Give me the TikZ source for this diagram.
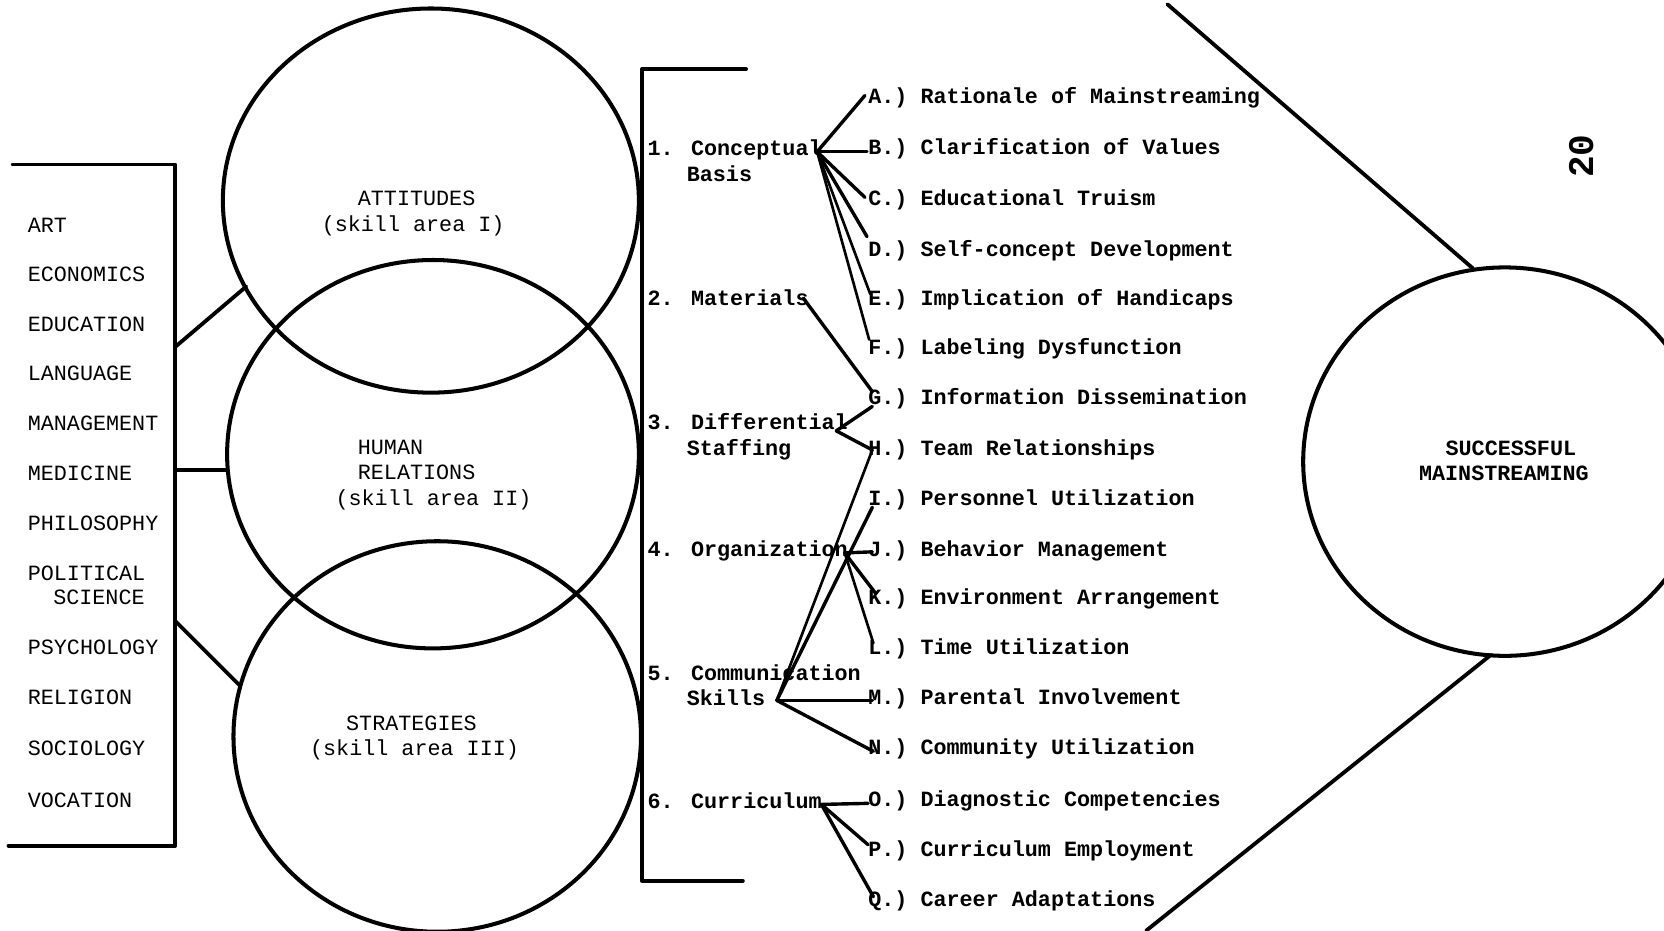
\documentclass[tikz,border=0pt]{standalone}
\usepackage{fontspec}
\newfontfamily\tw{Liberation Mono}
\begin{document}
\begin{tikzpicture}[x=1pt,y=-1pt,
  frame/.style={line width=3.6pt, line cap=round, line join=round},
  ring/.style={line width=3.8pt},
  link/.style={line width=3.2pt, line cap=round},
  thinlink/.style={line width=2.5pt, line cap=round},
  word/.style={anchor=base west, inner sep=0pt, font=\tw\fontsize{20.5}{24}\selectfont},
  item/.style={anchor=base west, inner sep=0pt, font=\tw\bfseries\fontsize{20.5}{24}\selectfont}]
\useasboundingbox (0,0) rectangle (1568,877);
\fill[white] (0,0) rectangle (1568,877);

% ---------- left list box ----------
\draw[frame] (12,155) -- (165,155) -- (165,797) -- (8,797);
\node[word] (art)  at (26,219) {ART};
\node[word] (eco)  at (26,265) {ECONOMICS};
\node[word] (edu)  at (26,312) {EDUCATION};
\node[word] (lang) at (26,359) {LANGUAGE};
\node[word] (man)  at (26,406) {MANAGEMENT};
\node[word] (med)  at (26,453) {MEDICINE};
\node[word] (phil) at (26,500) {PHILOSOPHY};
\node[word] (pol)  at (26,547) {POLITICAL};
\node[word] (sci)  at (50,570) {SCIENCE};
\node[word] (psy)  at (26,617) {PSYCHOLOGY};
\node[word] (rel)  at (26,664) {RELIGION};
\node[word] (soc)  at (26,712) {SOCIOLOGY};
\node[word] (voc)  at (26,761) {VOCATION};

\coordinate (boxR1) at (165,327);
\coordinate (boxR2) at (165,443);
\coordinate (boxR3) at (165,585);

% ---------- skill-area circles ----------
\draw[ring] (406,189) ellipse [x radius=196, y radius=181];
\draw[ring] (408,428) ellipse [x radius=194, y radius=183];
\draw[ring] (412,694) ellipse [x radius=192, y radius=184];
\coordinate (att) at (232,270);
\coordinate (hum) at (214,443);
\coordinate (str) at (225,645);
\draw[frame] (boxR1) -- (att);
\draw[frame] (boxR2) -- (hum);
\draw[frame] (boxR3) -- (str);

\node[word] (t1a) at (337,194) {ATTITUDES};
\node[word] (t1b) at (303,218) {(skill area I)};
\node[word] (t2a) at (337,428) {HUMAN};
\node[word] (t2b) at (337,452) {RELATIONS};
\node[word] (t2c) at (316,476) {(skill area II)};
\node[word] (t3a) at (326,688) {STRATEGIES};
\node[word] (t3b) at (292,712) {(skill area III)};

% ---------- bracket ----------
\draw[frame] (703,65) -- (605,65) -- (605,830) -- (700,830);

% ---------- categories ----------
\node[item] (c1)  at (610,147) {1. Conceptual};
\node[item] (c1b) at (647,171) {Basis};
\node[item] (c2)  at (610,288) {2. Materials};
\node[item] (c3)  at (610,405) {3. Differential};
\node[item] (c3b) at (647,429) {Staffing};
\node[item] (c4)  at (610,524) {4. Organization};
\node[item] (c5)  at (610,641) {5. Communication};
\node[item] (c5b) at (647,665) {Skills};
\node[item] (c6)  at (610,762) {6. Curriculum};

% ---------- items ----------
\node[item] (A) at (818,98)  {A.) Rationale of Mainstreaming};
\node[item] (B) at (818,146) {B.) Clarification of Values};
\node[item] (C) at (818,194) {C.) Educational Truism};
\node[item] (D) at (818,242) {D.) Self-concept Development};
\node[item] (E) at (818,288) {E.) Implication of Handicaps};
\node[item] (F) at (818,334) {F.) Labeling Dysfunction};
\node[item] (G) at (818,381) {G.) Information Dissemination};
\node[item] (H) at (818,429) {H.) Team Relationships};
\node[item] (I) at (818,476) {I.) Personnel Utilization};
\node[item] (J) at (818,524) {J.) Behavior Management};
\node[item] (K) at (818,570) {K.) Environment Arrangement};
\node[item] (L) at (818,617) {L.) Time Utilization};
\node[item] (M) at (818,664) {M.) Parental Involvement};
\node[item] (N) at (818,711) {N.) Community Utilization};
\node[item] (O) at (818,760) {O.) Diagnostic Competencies};
\node[item] (P) at (818,807) {P.) Curriculum Employment};
\node[item] (Q) at (818,854) {Q.) Career Adaptations};

% ---------- hubs and ends ----------
\coordinate (h1) at (770,143);
\coordinate (h2) at (757,281);
\coordinate (h3) at (788,406);
\coordinate (h4) at (796,521);
\coordinate (h5) at (732,660);
\coordinate (h6) at (774,758);
\coordinate (eA) at (815,90);
\coordinate (eB) at (817,143);
\coordinate (eC) at (815,186);
\coordinate (eD) at (817,223);
\coordinate (eE) at (820,277);
\coordinate (eF) at (819,320);
\coordinate (eG) at (822,369);
\coordinate (eG2) at (822,383);
\coordinate (eH) at (822,424);
\coordinate (eI) at (822,478);
\coordinate (eJ) at (822,520);
\coordinate (eK) at (825,559);
\coordinate (eL) at (823,606);
\coordinate (eM) at (822,660);
\coordinate (eN) at (823,708);
\coordinate (eO) at (818,757);
\coordinate (eP) at (818,796);
\coordinate (eQ) at (823,845);

\draw[link] (h1) -- (eA);
\draw[link] (h1) -- (eB);
\draw[link] (h1) -- (eC);
\draw[link] (h1) -- (eD);
\draw[thinlink] (h1) -- (eE);
\draw[thinlink] (h1) -- (eF);
\draw[link] (h2) -- (eG);
\draw[link] (h3) -- (eG2);
\draw[link] (h3) -- (eH);
\draw[thinlink] (eH) -- (h5);
\draw[link] (eI) -- (h5);
\draw[link] (h4) -- (eJ);
\draw[link] (h4) -- (eK);
\draw[thinlink] (h4) -- (eL);
\draw[link] (h5) -- (eM);
\draw[link] (h5) -- (eN);
\draw[link] (h6) -- (eO);
\draw[link] (h6) -- (eP);
\draw[link] (h6) -- (eQ);

% ---------- goal circle ----------
\draw[ring] (1418,435) ellipse [x radius=190, y radius=183];
\node[item] (s1) at (1362,429) {SUCCESSFUL};
\node[item] (s2) at (1337,453) {MAINSTREAMING};
\coordinate (gTop) at (1388,253);
\coordinate (gBot) at (1405,617);
\coordinate (lTop) at (1100,4);
\coordinate (lBot) at (1080,877);
\draw[frame] (lTop) -- (gTop);
\draw[frame] (gBot) -- (lBot);

% ---------- page number ----------
\node[rotate=90, inner sep=0pt, font=\tw\bfseries\fontsize{34}{36}\selectfont] (pg) at (1490,147) {20};
\end{tikzpicture}
\end{document}
